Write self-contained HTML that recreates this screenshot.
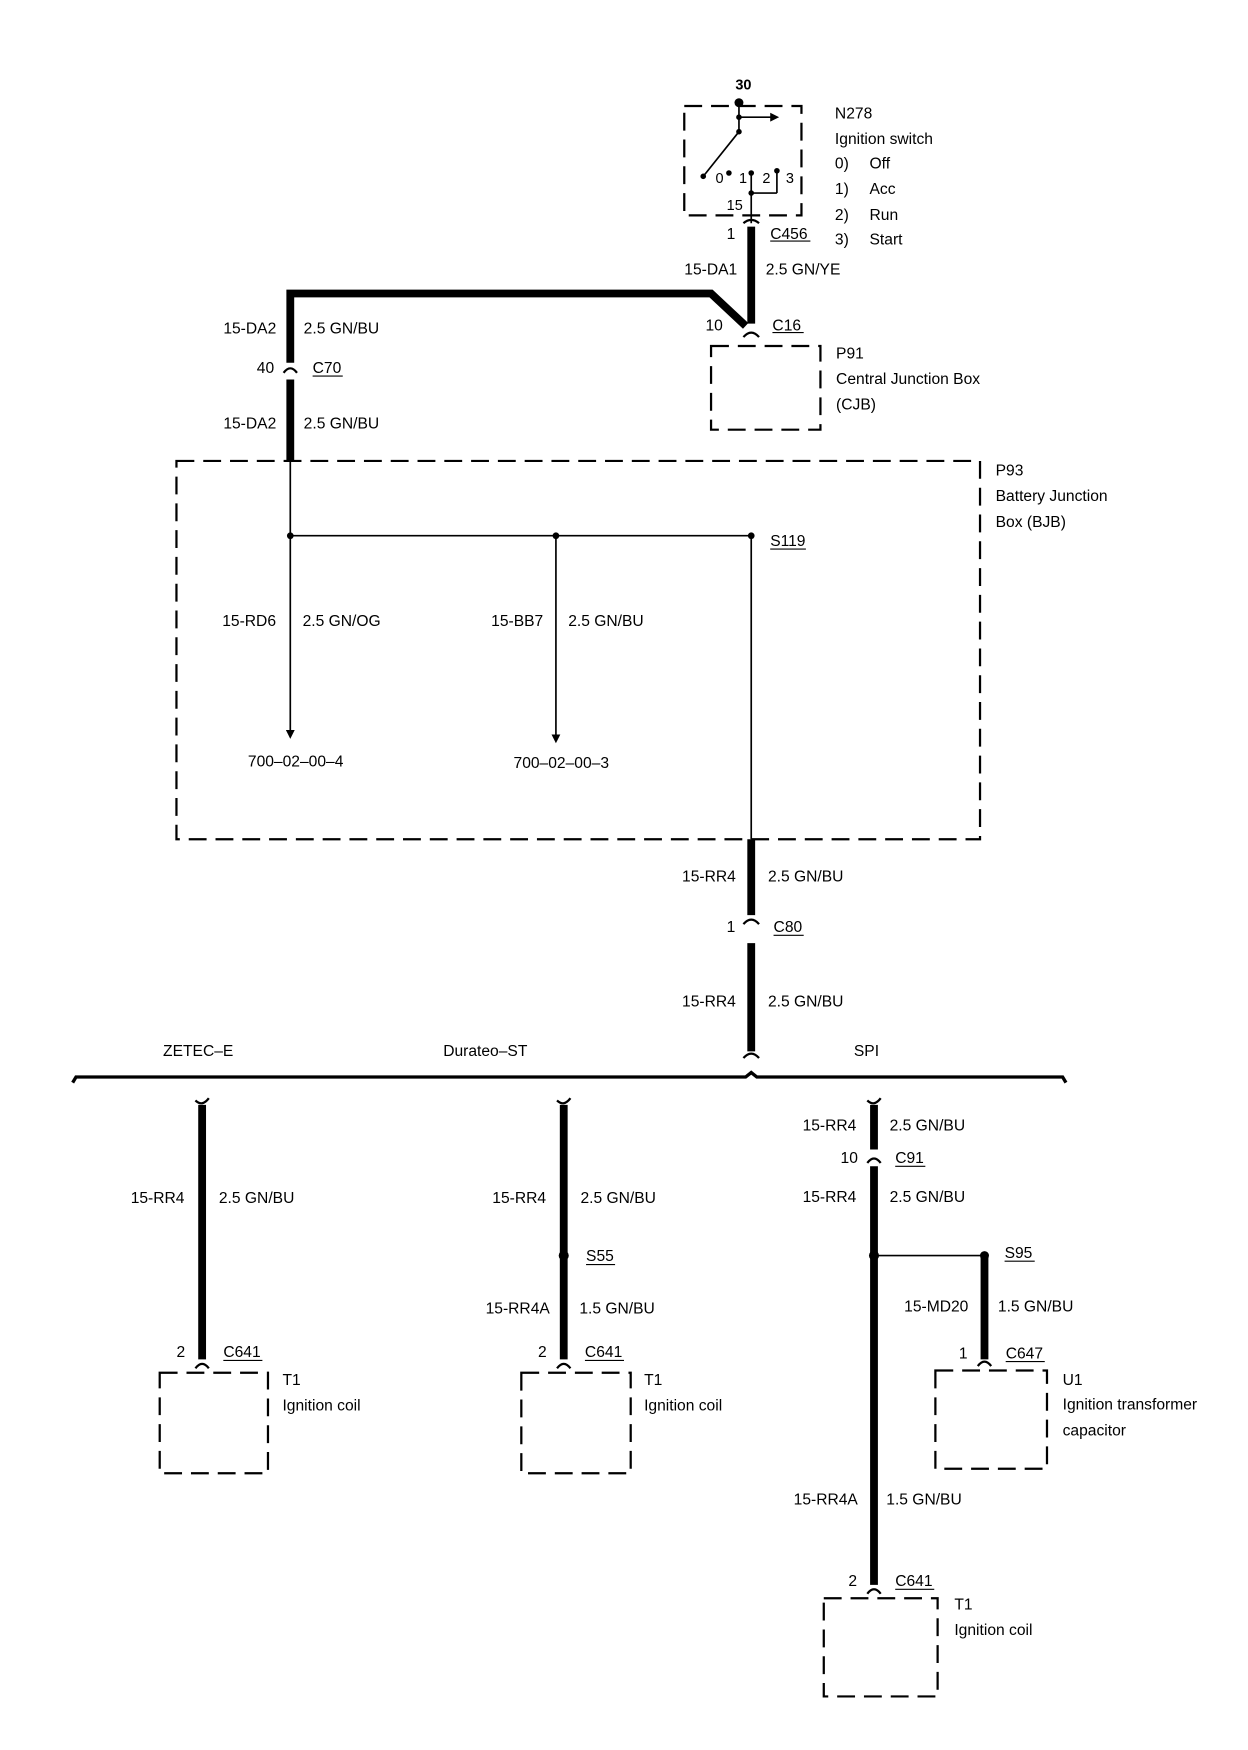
<!DOCTYPE html>
<html><head><meta charset="utf-8"><style>
html,body{margin:0;padding:0;background:#fff;}
svg{display:block;}
text{font-family:"Liberation Sans",sans-serif;font-size:14px;fill:#000;}
</style></head><body>
<svg width="1248" height="1750" viewBox="0 0 1118 1568" xmlns="http://www.w3.org/2000/svg">
<defs>
<marker id="ah" markerWidth="8" markerHeight="8" refX="4" refY="4" orient="auto" markerUnits="userSpaceOnUse"><path d="M0,0 L8,4 L0,8 z" fill="#000"/></marker>
</defs>
<g fill="none" stroke="#000">
<!-- dashed boxes -->
<g stroke-width="2" stroke-dasharray="16,8">
<rect x="613" y="95" width="105" height="98"/>
<rect x="637" y="310" width="98" height="75"/>
<rect x="158" y="413" width="720" height="339"/>
<rect x="143" y="1230" width="97" height="90"/>
<rect x="467" y="1230" width="98" height="90"/>
<rect x="838" y="1228" width="100" height="88"/>
<rect x="738" y="1432" width="102" height="88"/>
</g>
<!-- ignition switch internals -->
<g stroke-width="1.5">
<line x1="662" y1="92" x2="662" y2="118"/>
<line x1="662" y1="105" x2="694" y2="105" marker-end="url(#ah)"/>
<line x1="662" y1="118" x2="630" y2="158"/>
<line x1="673" y1="155" x2="673" y2="200"/>
<line x1="696" y1="153" x2="696" y2="173"/>
<line x1="696" y1="173" x2="673" y2="173"/>
</g>
<!-- thick wires -->
<g stroke-width="7">
<line x1="673" y1="203" x2="673" y2="290"/>
<polyline points="668,292 637,263 260,263 260,325"/>
<line x1="260" y1="340" x2="260" y2="413"/>
<line x1="673" y1="752" x2="673" y2="820"/>
<line x1="673" y1="845" x2="673" y2="942"/>
<line x1="181" y1="990" x2="181" y2="1218"/>
<line x1="505" y1="990" x2="505" y2="1218"/>
<line x1="783" y1="990" x2="783" y2="1030"/>
<line x1="783" y1="1045" x2="783" y2="1420"/>
<line x1="882" y1="1125" x2="882" y2="1218"/>
</g>
<!-- thin wires -->
<g stroke-width="1.5">
<line x1="260" y1="413" x2="260" y2="480"/>
<line x1="260" y1="480" x2="673" y2="480"/>
<line x1="673" y1="480" x2="673" y2="752"/>
<line x1="260" y1="480" x2="260" y2="658" marker-end="url(#ah)"/>
<line x1="498" y1="480" x2="498" y2="662" marker-end="url(#ah)"/>
<line x1="783" y1="1125" x2="882" y2="1125"/>
</g>
<!-- connector carets -->
<g stroke-width="2">
<path d="M666,200 Q673,194 680,200"/>
<path d="M666,302 Q673,294 680,302"/>
<path d="M254,334 Q260,326 266,334"/>
<path d="M666,828 Q673,820 680,828"/>
<path d="M666,948 Q673,940 680,948"/>
<path d="M175,986 Q181,992 187,984"/>
<path d="M499,986 Q505,992 511,984"/>
<path d="M777,986 Q783,992 789,984"/>
<path d="M777,1042 Q783,1034 789,1042"/>
<path d="M175,1226 Q181,1218 187,1226"/>
<path d="M499,1226 Q505,1218 511,1226"/>
<path d="M876,1224 Q882,1216 888,1224"/>
<path d="M777,1428 Q783,1420 789,1428"/>
</g>
<!-- bracket -->
<path d="M65,970 L68,965 L668,965 L673,961 L678,965 L952,965 L955,970" stroke-width="3"/>
<!-- underlines -->
<g stroke-width="1">
<line x1="690" y1="216" x2="726" y2="216"/>
<line x1="692" y1="298" x2="720" y2="298"/>
<line x1="280" y1="337" x2="307" y2="337"/>
<line x1="690" y1="492" x2="722" y2="492"/>
<line x1="693" y1="838" x2="720" y2="838"/>
<line x1="802" y1="1045" x2="829" y2="1045"/>
<line x1="525" y1="1133" x2="551" y2="1133"/>
<line x1="900" y1="1130" x2="927" y2="1130"/>
<line x1="200" y1="1219" x2="235" y2="1219"/>
<line x1="524" y1="1219" x2="559" y2="1219"/>
<line x1="901" y1="1220" x2="936" y2="1220"/>
<line x1="802" y1="1424" x2="837" y2="1424"/>
</g>
</g>
<!-- dots -->
<g fill="#000">
<circle cx="662" cy="92" r="4"/>
<circle cx="662" cy="105" r="2.5"/><circle cx="662" cy="118" r="2.5"/>
<circle cx="630" cy="158" r="2.5"/><circle cx="653" cy="155" r="2.5"/>
<circle cx="673" cy="155" r="2.5"/><circle cx="696" cy="153" r="2.5"/>
<circle cx="673" cy="173" r="2.5"/>
<circle cx="260" cy="480" r="3"/><circle cx="498" cy="480" r="3"/><circle cx="673" cy="480" r="3"/>
<circle cx="505" cy="1125" r="4.5"/><circle cx="783" cy="1125" r="4.5"/><circle cx="882" cy="1125" r="4"/>
</g>
<!-- text -->
<text x="666" y="80" text-anchor="middle" font-weight="bold" style="font-size:13px">30</text>
<text x="641" y="164" style="font-size:13px">0</text>
<text x="662" y="164" style="font-size:13px">1</text>
<text x="683" y="164" style="font-size:13px">2</text>
<text x="704" y="164" style="font-size:13px">3</text>
<text x="651" y="188" style="font-size:13px">15</text>
<text x="748" y="106">N278</text>
<text x="748" y="129">Ignition switch</text>
<text x="748" y="151">0)</text><text x="779" y="151">Off</text>
<text x="748" y="174">1)</text><text x="779" y="174">Acc</text>
<text x="748" y="197">2)</text><text x="779" y="197">Run</text>
<text x="748" y="219">3)</text><text x="779" y="219">Start</text>
<text x="651" y="214">1</text><text x="690" y="214">C456</text>
<text x="613" y="246">15-DA1</text><text x="686" y="246">2.5 GN/YE</text>
<text x="632" y="296">10</text><text x="692" y="296">C16</text>
<text x="749" y="321">P91</text>
<text x="749" y="344">Central Junction Box</text>
<text x="749" y="367">(CJB)</text>
<text x="200" y="299">15-DA2</text><text x="272" y="299">2.5 GN/BU</text>
<text x="230" y="334">40</text><text x="280" y="334">C70</text>
<text x="200" y="384">15-DA2</text><text x="272" y="384">2.5 GN/BU</text>
<text x="892" y="426">P93</text>
<text x="892" y="449">Battery Junction</text>
<text x="892" y="472">Box (BJB)</text>
<text x="690" y="489">S119</text>
<text x="199" y="561">15-RD6</text><text x="271" y="561">2.5 GN/OG</text>
<text x="440" y="561">15-BB7</text><text x="509" y="561">2.5 GN/BU</text>
<text x="222" y="687">700–02–00–4</text>
<text x="460" y="688">700–02–00–3</text>
<text x="611" y="790">15-RR4</text><text x="688" y="790">2.5 GN/BU</text>
<text x="651" y="835">1</text><text x="693" y="835">C80</text>
<text x="611" y="902">15-RR4</text><text x="688" y="902">2.5 GN/BU</text>
<text x="146" y="946">ZETEC–E</text>
<text x="397" y="946">Durateo–ST</text>
<text x="765" y="946">SPI</text>
<text x="117" y="1078">15-RR4</text><text x="196" y="1078">2.5 GN/BU</text>
<text x="158" y="1216">2</text><text x="200" y="1216">C641</text>
<text x="253" y="1241">T1</text><text x="253" y="1264">Ignition coil</text>
<text x="441" y="1078">15-RR4</text><text x="520" y="1078">2.5 GN/BU</text>
<text x="525" y="1130">S55</text>
<text x="435" y="1177">15-RR4A</text><text x="519" y="1177">1.5 GN/BU</text>
<text x="482" y="1216">2</text><text x="524" y="1216">C641</text>
<text x="577" y="1241">T1</text><text x="577" y="1264">Ignition coil</text>
<text x="719" y="1013">15-RR4</text><text x="797" y="1013">2.5 GN/BU</text>
<text x="753" y="1042">10</text><text x="802" y="1042">C91</text>
<text x="719" y="1077">15-RR4</text><text x="797" y="1077">2.5 GN/BU</text>
<text x="900" y="1127">S95</text>
<text x="810" y="1175">15-MD20</text><text x="894" y="1175">1.5 GN/BU</text>
<text x="859" y="1217">1</text><text x="901" y="1217">C647</text>
<text x="952" y="1241">U1</text>
<text x="952" y="1263">Ignition transformer</text>
<text x="952" y="1286">capacitor</text>
<text x="711" y="1348">15-RR4A</text><text x="794" y="1348">1.5 GN/BU</text>
<text x="760" y="1421">2</text><text x="802" y="1421">C641</text>
<text x="855" y="1442">T1</text><text x="855" y="1465">Ignition coil</text>
</svg>
</body></html>
